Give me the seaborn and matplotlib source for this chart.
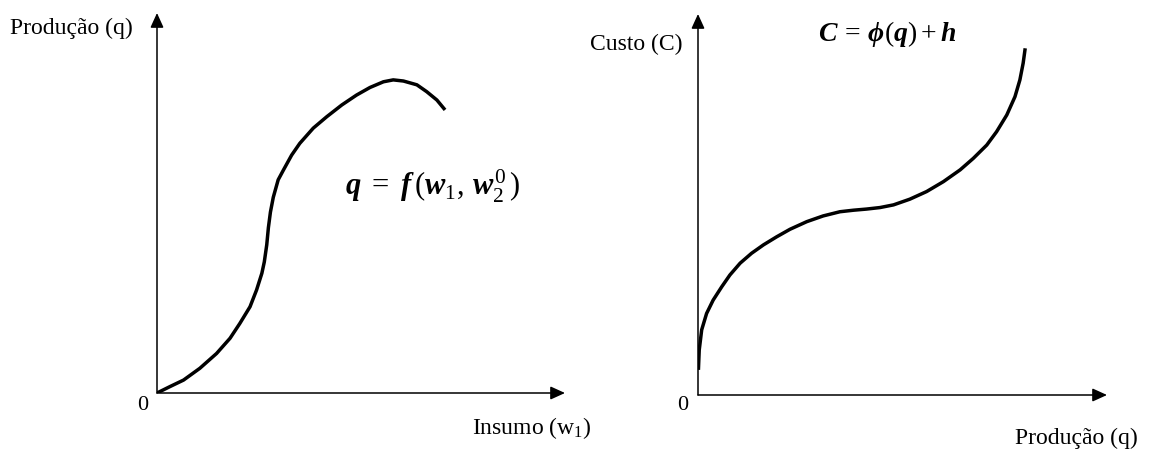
import matplotlib
matplotlib.use('Agg')
import matplotlib.pyplot as plt
import seaborn as sns

# curva de produção (insumo w1 -> produção q), escala 0-100
insumo = [0, 3.2, 6.5, 10.5, 14.6, 17.9, 20.3, 22.8, 24.4, 25.7, 26.3, 26.9, 27.3,
          27.8, 28.5, 29.7, 31.0, 33.0, 35.0, 38.3, 41.6, 45.3, 48.9, 52.2, 55.5,
          57.9, 60.4, 63.7, 66.1, 68.6, 70.6]
producao = [0, 1.7, 3.4, 6.5, 10.4, 14.4, 18.3, 22.7, 27.1, 31.5, 34.5, 39.0, 43.5,
            47.6, 51.5, 56.1, 58.7, 62.6, 65.7, 69.7, 72.7, 75.8, 78.4, 80.4, 81.9,
            82.4, 82.1, 81.1, 79.3, 77.1, 74.5]

# curva de custo (produção q -> custo C), escala 0-100
prod_q = [0.1, 0.3, 0.9, 2.1, 3.7, 5.8, 7.8, 10.3, 13.1, 16.0, 19.2, 22.5, 26.6,
          30.6, 34.7, 38.0, 41.2, 44.5, 47.8, 51.8, 55.9, 60.0, 64.1, 67.3, 70.6,
          73.0, 75.5, 77.5, 78.7, 79.5, 80.0]
custo = [6.6, 11.8, 17.1, 21.4, 24.9, 28.4, 31.5, 34.6, 37.2, 39.4, 41.5, 43.5, 45.5,
         47.0, 48.1, 48.5, 48.8, 49.2, 49.9, 51.4, 53.4, 56.0, 59.1, 62.1, 65.6,
         69.1, 73.5, 78.3, 82.7, 87.1, 91.0]

sns.set_theme(style="white")
plt.rcParams['font.family'] = ['Liberation Serif', 'DejaVu Serif']
plt.rcParams['mathtext.fontset'] = 'custom'
plt.rcParams['mathtext.rm'] = 'Liberation Serif'
plt.rcParams['mathtext.it'] = 'Liberation Serif:italic:bold'
plt.rcParams['mathtext.bf'] = 'Liberation Serif:bold'

W, H = 1149, 450
fig = plt.figure(figsize=(W / 100, H / 100), dpi=100)


def painel(x0, y0, x1, y1):
    # x0,y0 = origem em pixels; x1 = ponta da seta x; y1 = ponta da seta y
    ax = fig.add_axes([x0 / W, 1 - y0 / H, (x1 - x0) / W, (y0 - y1) / H])
    ax.set_xlim(0, 100)
    ax.set_ylim(0, 100)
    ax.axis('off')
    seta = dict(arrowstyle='-|>,head_length=0.55,head_width=0.25',
                mutation_scale=16, lw=1.1, color='black', shrinkA=0, shrinkB=0)
    ax.annotate('', xy=(1, 0), xytext=(0, 0), xycoords='axes fraction',
                arrowprops=seta, annotation_clip=False)
    ax.annotate('', xy=(0, 1), xytext=(0, 0), xycoords='axes fraction',
                arrowprops=seta, annotation_clip=False)
    return ax


ax1 = painel(157, 393, 565, 13)
sns.lineplot(x=insumo, y=producao, ax=ax1, color='black', lw=2.5,
             sort=False, estimator=None, solid_joinstyle='round', solid_capstyle='butt')

ax2 = painel(698, 395, 1107, 14)
sns.lineplot(x=prod_q, y=custo, ax=ax2, color='black', lw=2.5,
             sort=False, estimator=None, solid_joinstyle='round', solid_capstyle='butt')


def txt(x, y, s, ha='left', size=17, **kw):
    fig.text(x / W, 1 - y / H, s, ha=ha, va='center', size=size, color='black', **kw)


txt(10, 28, 'Produção (q)')
txt(143, 405, '0', ha='center', size=16)
txt(472, 428, 'Insumo (w$_1$)')
txt(590, 44, 'Custo (C)')
txt(683, 405, '0', ha='center', size=16)
txt(1015, 438, 'Produção (q)')

txt(345, 186, r'$q\;=\;f\,(w_1,\,w_2^0\,)$', size=22)
txt(818, 34, r'$C\,=\,\phi(q)+h$', size=20)

fig.savefig('out.png', dpi=100, facecolor='white')
